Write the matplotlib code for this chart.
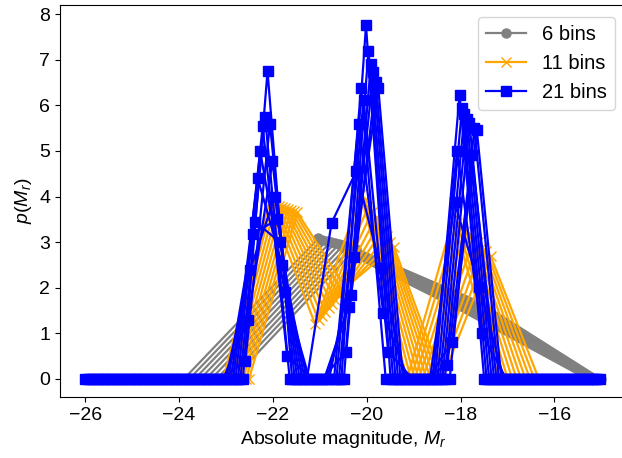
import numpy as np
import matplotlib
matplotlib.use("Agg")
import matplotlib.pyplot as plt

plt.rcParams['font.family'] = ['Liberation Sans', 'DejaVu Sans']
plt.rcParams['mathtext.fontset'] = 'custom'
plt.rcParams['mathtext.rm'] = 'Liberation Sans'
plt.rcParams['mathtext.it'] = 'Liberation Sans:italic'

# ---- data: each line = one histogram realisation (first x, last x, heights) ----
gray_first = [-23.9, -23.783, -23.667, -23.55, -23.433, -23.317, -23.2, -23.083, -22.967, -22.85]
gray_last = [-15.3, -15.267, -15.233, -15.2, -15.167, -15.133, -15.1, -15.067, -15.033, -15.0]
gray_vals = [
    [0, 3.08, 1.60, 0],
    [0, 3.055, 1.61, 0],
    [0, 3.03, 1.62, 0],
    [0, 3.005, 1.63, 0],
    [0, 2.98, 1.64, 0],
    [0, 2.955, 1.65, 0],
    [0, 2.93, 1.66, 0],
    [0, 2.905, 1.67, 0],
    [0, 2.88, 1.68, 0],
    [0, 2.855, 1.70, 0],
]

orange_first = [-26.0, -25.956, -25.911, -25.867, -25.822, -25.778, -25.733, -25.689, -25.644, -25.6]
orange_last = [-16.2, -16.1, -16.0, -15.9, -15.8, -15.7, -15.6, -15.5, -15.4, -15.3]
orange_vals = [
    [0, 0, 0, 0, 3.85, 1.20, 4.05, 0, 3.50, 0, 0],
    [0, 0, 0, 0, 3.84, 1.29, 3.92, 0, 3.42, 0, 0],
    [0, 0, 0, 0, 3.82, 1.38, 3.79, 0, 3.34, 0, 0],
    [0, 0, 0, 0, 3.80, 1.47, 3.66, 0, 3.26, 0, 0],
    [0, 0, 0, 0, 3.78, 1.56, 3.53, 0, 3.18, 0, 0],
    [0, 0, 0, 0, 3.75, 1.64, 3.40, 0, 3.10, 0, 0],
    [0, 0, 0, 0, 3.72, 1.73, 3.27, 0, 3.00, 0, 0],
    [0, 0, 0, 0, 3.70, 1.82, 3.14, 0, 2.90, 0, 0],
    [0, 0, 0, 0, 3.68, 1.91, 3.01, 0, 2.80, 0, 0],
    [0, 0, 0, 0, 3.65, 2.00, 2.90, 0, 2.70, 0, 0],
]

blue_first = [-26.0, -25.9475, -25.895, -25.8425, -25.79, -25.7375, -25.685, -25.6325, -25.58, -25.5275]
blue_last = [-15.5, -15.4475, -15.395, -15.3425, -15.29, -15.2375, -15.185, -15.1325, -15.08, -15.0275]
blue_vals = [
    [0, 0, 0, 0, 0, 0, 0.00, 4.40, 2.50, 0, 3.42, 4.55, 2.43, 0, 0.00, 3.88, 2.02, 0, 0, 0, 0],
    [0, 0, 0, 0, 0, 0, 0.00, 5.00, 1.90, 0, 0.00, 5.60, 1.45, 0, 0.00, 5.00, 1.00, 0, 0, 0, 0],
    [0, 0, 0, 0, 0, 0, 0.00, 5.55, 0.50, 0, 0.00, 6.38, 0.00, 0, 0.00, 6.23, 0.00, 0, 0, 0, 0],
    [0, 0, 0, 0, 0, 0, 0.00, 5.75, 0.00, 0, 0.00, 6.12, 0.60, 0, 0.00, 5.94, 0.00, 0, 0, 0, 0],
    [0, 0, 0, 0, 0, 0, 0.00, 6.75, 0.00, 0, 0.00, 7.75, 0.00, 0, 0.00, 5.80, 0.00, 0, 0, 0, 0],
    [0, 0, 0, 0, 0, 0, 0.40, 5.60, 0.00, 0, 0.00, 7.20, 0.00, 0, 0.00, 5.70, 0.00, 0, 0, 0, 0],
    [0, 0, 0, 0, 0, 0, 1.30, 4.77, 0.00, 0, 0.60, 6.90, 0.00, 0, 0.00, 5.61, 0.00, 0, 0, 0, 0],
    [0, 0, 0, 0, 0, 0, 2.40, 4.00, 0.00, 0, 1.58, 6.74, 0.00, 0, 0.30, 4.90, 0.00, 0, 0, 0, 0],
    [0, 0, 0, 0, 0, 0, 3.18, 3.50, 0.00, 0, 1.84, 6.52, 0.00, 0, 0.00, 5.50, 0.00, 0, 0, 0, 0],
    [0, 0, 0, 0, 0, 0, 3.45, 3.00, 0.00, 0, 2.68, 6.38, 0.00, 0, 0.81, 5.46, 0.00, 0, 0, 0, 0],
]

groups = [
    ("6 bins", "gray", "o", gray_first, gray_last, gray_vals),
    ("11 bins", "orange", "x", orange_first, orange_last, orange_vals),
    ("21 bins", "blue", "s", blue_first, blue_last, blue_vals),
]

fig = plt.figure(figsize=(6.22, 4.58), dpi=100)
ax = fig.add_axes([60 / 622, 61 / 458, 567 / 622, 392.5 / 458])

for label, color, marker, firsts, lasts, vals in groups:
    for i, (x0, x1, v) in enumerate(zip(firsts, lasts, vals)):
        x = np.linspace(x0, x1, len(v))
        ax.plot(x, v, color=color, marker=marker, lw=1.6, ms=6.5,
                label=label if i == 0 else None)

ax.set_xlim(-26.54, -14.45)
ax.set_ylim(-0.395, 8.21)
ax.set_xticks([-26, -24, -22, -20, -18, -16])
ax.set_yticks(range(0, 9))
ax.tick_params(labelsize=14)
ax.set_xlabel(r"Absolute magnitude, $M_r$", fontsize=14)
ax.set_ylabel(r"$p(M_r)$", fontsize=14)
ax.legend(loc="upper right", fontsize=14.5, borderaxespad=0.6)

fig.savefig("out.png", dpi=100)
